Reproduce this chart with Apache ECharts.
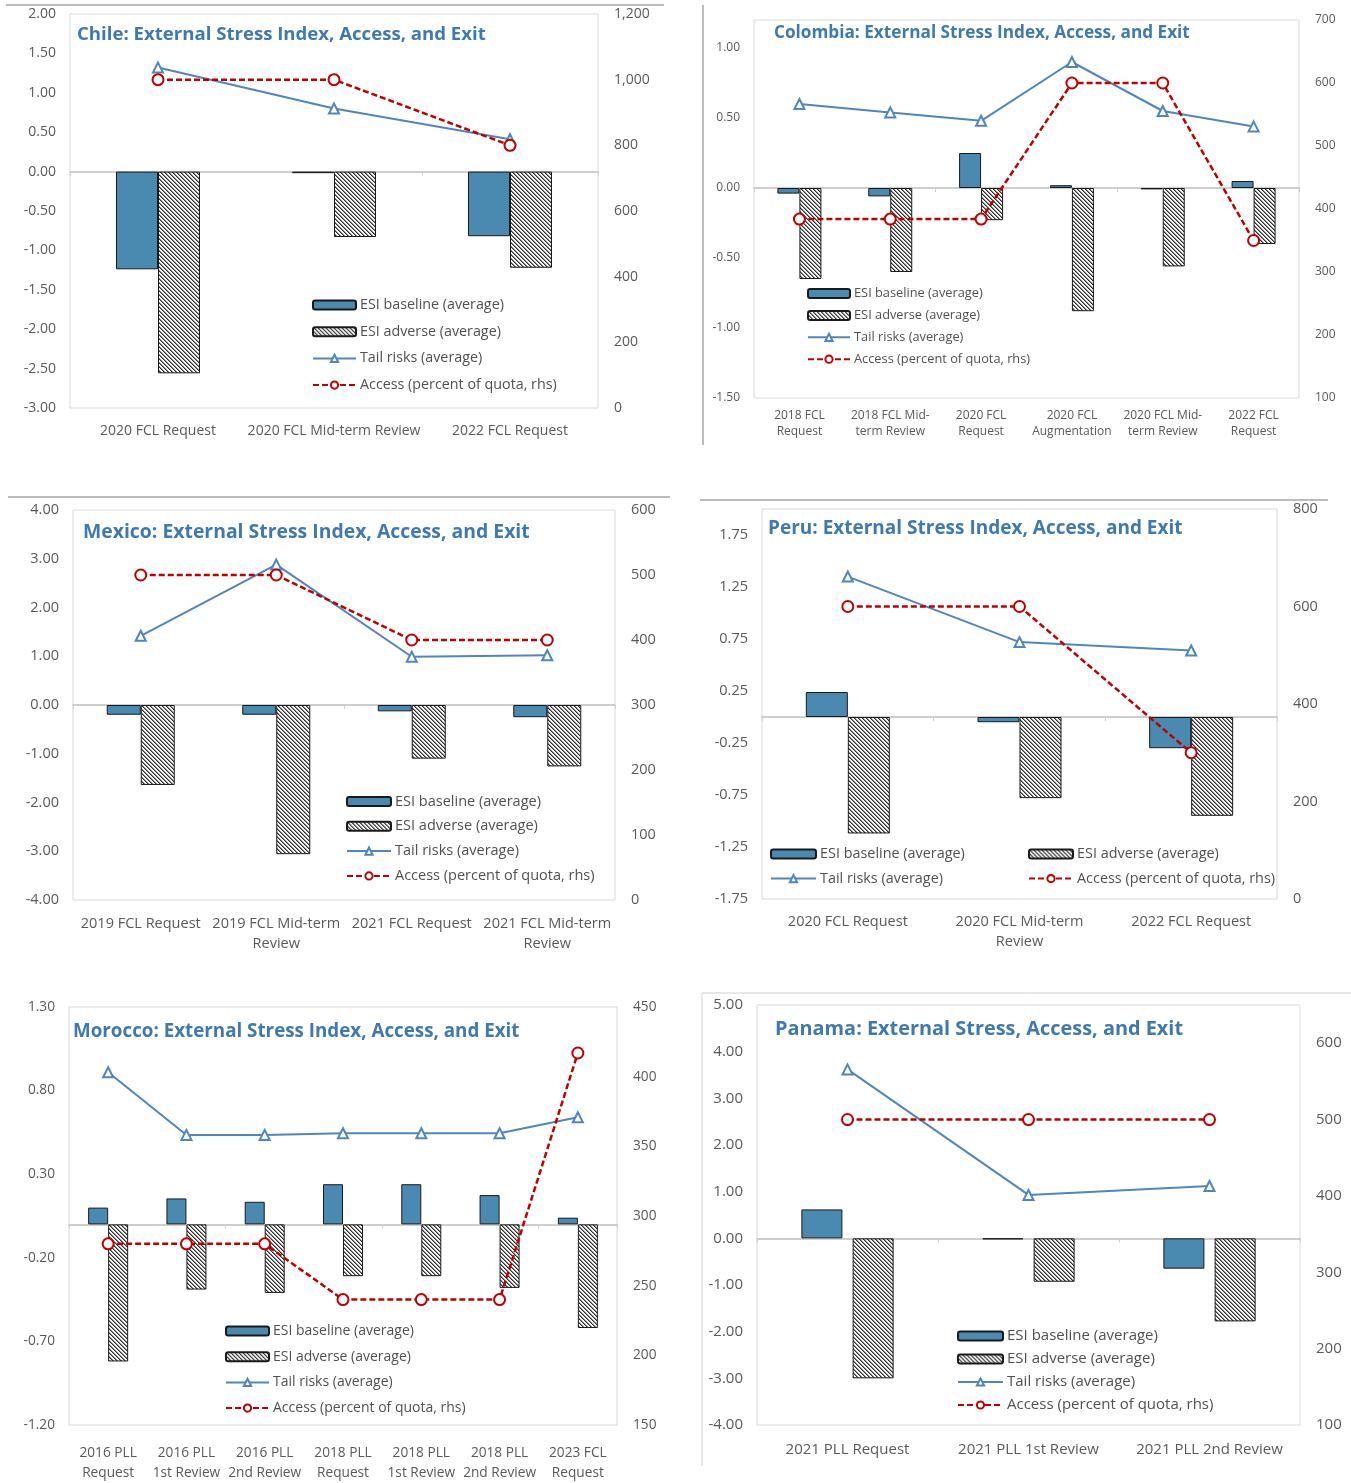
<!DOCTYPE html>
<html><head><meta charset="utf-8">
<script src="https://cdn.jsdelivr.net/npm/echarts@6/dist/echarts.min.js"></script>
<style>html,body{margin:0;padding:0;background:#fff}#c{width:1351px;height:1483px}</style>
</head><body><div id="c"></div>
<script>
// ---------------- DATA ----------------
const chileCats = ['2020 FCL Request', '2020 FCL Mid-term Review', '2022 FCL Request'];
const chileBase = [-1.24, -0.02, -0.82];
const chileAdv = [-2.56, -0.83, -1.22];
const chileTail = [1.32, 0.80, 0.41];
const chileAccess = [1000, 1000, 800];

const colCats = ['2018 FCL\nRequest', '2018 FCL Mid-\nterm Review', '2020 FCL\nRequest', '2020 FCL\nAugmentation', '2020 FCL Mid-\nterm Review', '2022 FCL\nRequest'];
const colBase = [-0.04, -0.06, 0.25, 0.02, -0.01, 0.05];
const colAdv = [-0.65, -0.60, -0.23, -0.88, -0.56, -0.40];
const colTail = [0.60, 0.54, 0.48, 0.90, 0.55, 0.44];
const colAccess = [384, 384, 384, 600, 600, 350];

const mexCats = ['2019 FCL Request', '2019 FCL Mid-term\nReview', '2021 FCL Request', '2021 FCL Mid-term\nReview'];
const mexBase = [-0.20, -0.20, -0.13, -0.25];
const mexAdv = [-1.64, -3.06, -1.10, -1.26];
const mexTail = [1.42, 2.88, 0.99, 1.02];
const mexAccess = [500, 500, 400, 400];

const peruCats = ['2020 FCL Request', '2020 FCL Mid-term\nReview', '2022 FCL Request'];
const peruBase = [0.24, -0.05, -0.30];
const peruAdv = [-1.12, -0.78, -0.95];
const peruTail = [1.35, 0.72, 0.64];
const peruAccess = [600, 600, 300];

const morCats = ['2016 PLL\nRequest', '2016 PLL\n1st Review', '2016 PLL\n2nd Review', '2018 PLL\nRequest', '2018 PLL\n1st Review', '2018 PLL\n2nd Review', '2023 FCL\nRequest'];
const morBase = [0.10, 0.155, 0.135, 0.24, 0.24, 0.175, 0.04];
const morAdv = [-0.82, -0.39, -0.41, -0.31, -0.31, -0.38, -0.62];
const morTail = [0.91, 0.535, 0.535, 0.545, 0.545, 0.545, 0.64];
const morAccess = [280, 280, 280, 240, 240, 240, 417];

const panCats = ['2021 PLL Request', '2021 PLL 1st Review', '2021 PLL 2nd Review'];
const panBase = [0.62, -0.02, -0.65];
const panAdv = [-3.00, -0.93, -1.78];
const panTail = [3.62, 0.93, 1.12];
const panAccess = [500, 500, 500];

const N_BASE = 'ESI baseline (average)';
const N_ADV = 'ESI adverse (average)';
const N_TAIL = 'Tail risks (average)';
const N_ACC = 'Access (percent of quota, rhs)';

// ---------------- STYLE ----------------
const FONT = '"Open Sans"';
const GREY = '#595959';
const LEG_GREY = '#505050';
const BAR_BLUE = '#4A89B0';
const LINE_BLUE = '#4F86BF';
const RED = '#C00000';
const TITLE_BLUE = '#3E79B1';

function hatch() {
  const c = document.createElement('canvas'); c.width = 4; c.height = 4;
  const g = c.getContext('2d');
  g.fillStyle = '#f6f6f6'; g.fillRect(0, 0, 4, 4);
  g.fillStyle = '#2e2e2e';
  for (let i = 0; i < 4; i++) g.fillRect(i, i, 1, 1);
  g.fillStyle = '#8c8c8c';
  for (let i = 0; i < 4; i++) g.fillRect((i + 1) % 4, i, 1, 1);
  return c;
}
const HATCH = { image: hatch(), repeat: 'repeat' };

const panels = [
  { cats: chileCats, base: chileBase, adv: chileAdv, tail: chileTail, acc: chileAccess,
    title: 'Chile: External Stress Index, Access, and Exit', tx: 77, ty: 25, ts: 18.6,
    grid: { left: 70, top: 14, width: 528, height: 394 },
    l: [-3, 2, 0.5], r: [0, 1200, 200], fs: 14, xm: 14, lh: 18, bw: 42, gap: '0%',
    legends: [{ left: 312, top: 298, gap: 12.7, fs: 14.3, iw: 43, names: [N_BASE, N_ADV, N_TAIL, N_ACC] }] },
  { cats: colCats, base: colBase, adv: colAdv, tail: colTail, acc: colAccess,
    title: 'Colombia: External Stress Index, Access, and Exit', tx: 774, ty: 25, ts: 17.2,
    grid: { left: 754, top: 20, width: 545, height: 378 },
    l: [-1.5, 1.2, 0.5], r: [100, 700, 100], fs: 12, xm: 10, lh: 16, bw: 22, gap: '0%',
    legends: [{ left: 807, top: 287, gap: 8.9, fs: 12.8, iw: 42, names: [N_BASE, N_ADV, N_TAIL, N_ACC] }] },
  { cats: mexCats, base: mexBase, adv: mexAdv, tail: mexTail, acc: mexAccess,
    title: 'Mexico: External Stress Index, Access, and Exit', tx: 83, ty: 523, ts: 19.4,
    grid: { left: 73, top: 510, width: 542, height: 390 },
    l: [-4, 4, 1], r: [0, 600, 100], fs: 14.5, xm: 14, lh: 20, bw: 34, gap: '0%',
    legends: [{ left: 346, top: 794, gap: 9.8, fs: 14.5, iw: 44, names: [N_BASE, N_ADV, N_TAIL, N_ACC] }] },
  { cats: peruCats, base: peruBase, adv: peruAdv, tail: peruTail, acc: peruAccess,
    title: 'Peru: External Stress Index, Access, and Exit', tx: 768, ty: 519, ts: 19,
    grid: { left: 762, top: 509, width: 515, height: 390 },
    l: [-1.75, 2.0, 0.5], r: [0, 800, 200], fs: 14.5, xm: 13, lh: 20, bw: 42, gap: '0%',
    legends: [{ left: 770, top: 847, gap: 10.6, fs: 14.4, iw: 45, names: [N_BASE, N_TAIL] },
              { left: 1028, top: 847, gap: 10.6, fs: 14.4, iw: 44, names: [N_ADV, N_ACC] }] },
  { cats: morCats, base: morBase, adv: morAdv, tail: morTail, acc: morAccess,
    title: 'Morocco: External Stress Index, Access, and Exit', tx: 73, ty: 1022, ts: 18.8,
    grid: { left: 69, top: 1007, width: 548, height: 425 },
    l: [-1.2, 1.3, 0.5], r: [150, 450, 50], fs: 13.7, xm: 18, lh: 20, bw: 20, gap: '0%',
    legends: [{ left: 225, top: 1324, gap: 11.7, fs: 14, iw: 43, names: [N_BASE, N_ADV, N_TAIL, N_ACC] }] },
  { cats: panCats, base: panBase, adv: panAdv, tail: panTail, acc: panAccess,
    title: 'Panama: External Stress, Access, and Exit', tx: 775, ty: 1019, ts: 19.9,
    grid: { left: 757, top: 1005, width: 543, height: 420 },
    l: [-4, 5, 1], r: [100, 650, 100], fs: 15, xm: 15, lh: 20, bw: 41, gap: '25%',
    legends: [{ left: 957, top: 1328.5, gap: 8, fs: 15, iw: 45, names: [N_BASE, N_ADV, N_TAIL, N_ACC] }] }
];

function aligned(v, min, step) {
  const k = (v - min) / step;
  return Math.abs(k - Math.round(k)) < 1e-6;
}

const option = {
  animation: false,
  backgroundColor: '#fff',
  textStyle: { fontFamily: FONT },
  title: [], grid: [], xAxis: [], yAxis: [], series: [], legend: [],
  graphic: [
    { type: 'line', shape: { x1: 6, y1: 5, x2: 664, y2: 5 }, style: { stroke: '#a6a6a6', lineWidth: 1.5 } },
    { type: 'line', shape: { x1: 703, y1: 5, x2: 703, y2: 445 }, style: { stroke: '#a6a6a6', lineWidth: 1.5 } },
    { type: 'line', shape: { x1: 8, y1: 497, x2: 670, y2: 497 }, style: { stroke: '#a6a6a6', lineWidth: 1.5 } },
    { type: 'line', shape: { x1: 700, y1: 500, x2: 1328, y2: 500 }, style: { stroke: '#a6a6a6', lineWidth: 1.5 } },
    { type: 'line', shape: { x1: 702, y1: 993, x2: 1351, y2: 993 }, style: { stroke: '#d0d0d0', lineWidth: 1 } },
    { type: 'line', shape: { x1: 702, y1: 993, x2: 702, y2: 1466 }, style: { stroke: '#d0d0d0', lineWidth: 1 } }
  ]
};

panels.forEach((p, i) => {
  option.title.push({
    text: p.title, left: p.tx, top: p.ty, padding: 0,
    textStyle: { color: TITLE_BLUE, fontFamily: FONT, fontWeight: 'bold', fontSize: p.ts }
  });
  option.grid.push(Object.assign({ show: true, borderColor: '#d9d9d9', borderWidth: 1, backgroundColor: 'transparent', containLabel: false }, p.grid));
  option.xAxis.push({
    type: 'category', gridIndex: i, data: p.cats, position: 'bottom',
    axisLine: { show: true, onZero: true, lineStyle: { color: '#bfbfbf', width: 1.5 } },
    axisTick: { show: true, length: 4, lineStyle: { color: '#d0d0d0' } },
    axisLabel: { show: false }
  });
  option.xAxis.push({
    type: 'category', gridIndex: i, data: p.cats, position: 'bottom',
    axisLine: { show: false, onZero: false }, axisTick: { show: false },
    axisLabel: { interval: 0, color: GREY, fontFamily: FONT, fontSize: p.fs, margin: p.xm, lineHeight: p.lh }
  });
  const [lmin, lmax, lstep] = p.l, [rmin, rmax, rstep] = p.r;
  option.yAxis.push({
    type: 'value', gridIndex: i, position: 'left', min: lmin, max: lmax, interval: lstep,
    axisLine: { show: false }, axisTick: { show: false }, splitLine: { show: false },
    axisLabel: { color: GREY, fontFamily: FONT, fontSize: p.fs, margin: 14,
      formatter: v => aligned(v, lmin, lstep) ? v.toFixed(2) : '' }
  });
  option.yAxis.push({
    type: 'value', gridIndex: i, position: 'right', min: rmin, max: rmax, interval: rstep,
    axisLine: { show: false }, axisTick: { show: false }, splitLine: { show: false },
    axisLabel: { color: GREY, fontFamily: FONT, fontSize: p.fs, margin: 16,
      formatter: v => aligned(v, rmin, rstep) ? Math.round(v).toLocaleString('en-US') : '' }
  });
  const xi = 2 * i, yl = 2 * i, yr = 2 * i + 1;
  option.series.push({
    name: N_BASE, type: 'bar', xAxisIndex: xi, yAxisIndex: yl, data: p.base,
    barWidth: p.bw, barGap: p.gap,
    itemStyle: { color: BAR_BLUE, borderColor: '#1a1a1a', borderWidth: 1 }
  });
  option.series.push({
    name: N_ADV, type: 'bar', xAxisIndex: xi, yAxisIndex: yl, data: p.adv,
    barWidth: p.bw, barGap: p.gap,
    itemStyle: { color: HATCH, borderColor: '#1a1a1a', borderWidth: 1 }
  });
  option.series.push({
    name: N_TAIL, type: 'line', xAxisIndex: xi, yAxisIndex: yl, data: p.tail, z: 5,
    symbol: 'emptyTriangle', symbolSize: 10,
    lineStyle: { color: LINE_BLUE, width: 2 },
    itemStyle: { color: LINE_BLUE, borderWidth: 1.3 }
  });
  option.series.push({
    name: N_ACC, type: 'line', xAxisIndex: xi, yAxisIndex: yr, data: p.acc, z: 6,
    symbol: 'emptyCircle', symbolSize: 11,
    lineStyle: { color: RED, width: 2.5, type: [6, 3] },
    itemStyle: { color: RED, borderWidth: 1.5 }
  });
  p.legends.forEach(lg => {
    option.legend.push({
      left: lg.left, top: lg.top, orient: 'vertical', padding: 0, itemGap: lg.gap,
      itemWidth: lg.iw, itemHeight: 9, selectedMode: false, data: lg.names,
      textStyle: { color: LEG_GREY, fontFamily: FONT, fontSize: lg.fs, padding: [0, 0, 0, -1] }
    });
  });
});

const chart = echarts.init(document.getElementById('c'), null, { renderer: 'canvas' });
chart.setOption(option);
</script>
</body></html>
